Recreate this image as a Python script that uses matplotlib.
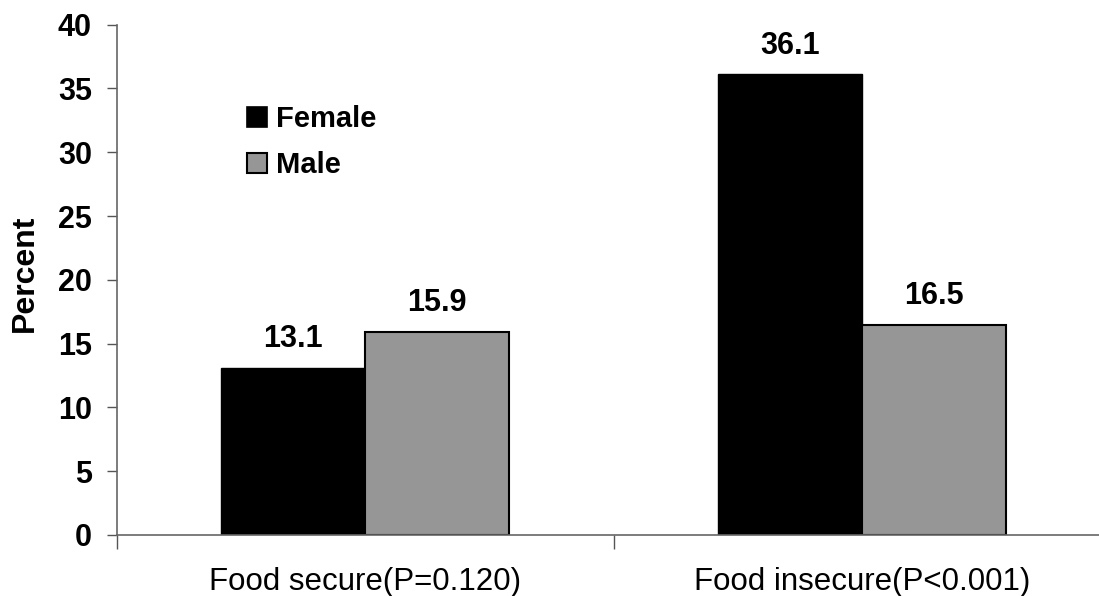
import matplotlib
matplotlib.use("Agg")
import matplotlib.pyplot as plt
import numpy as np
from matplotlib.patches import Patch

categories = ["Food secure(P=0.120)", "Food insecure(P<0.001)"]
series_names = ["Female", "Male"]
female = [13.1, 36.1]
male = [15.9, 16.5]
yticks = [0, 5, 10, 15, 20, 25, 30, 35, 40]

plt.rcParams['font.family'] = ['Liberation Sans', 'DejaVu Sans']

W, H = 1099, 596
fig = plt.figure(figsize=(W / 100, H / 100), dpi=100)
ax = fig.add_axes([117 / W, 61 / H, 993 / W, (535 - 24.7) / H])

x = np.arange(len(categories))
bw = 0.29
b1 = ax.bar(x - bw / 2, female, bw, color='black', edgecolor='black', linewidth=1.0, label=series_names[0])
b2 = ax.bar(x + bw / 2, male, bw, color='#969696', edgecolor='black', linewidth=1.5, label=series_names[1])

for bars, vals in ((b1, female), (b2, male)):
    for r, v in zip(bars, vals):
        ax.annotate(f"{v:.1f}", (r.get_x() + r.get_width() / 2, v), xytext=(0, 10),
                    textcoords='offset points', ha='center', va='bottom',
                    fontsize=22, fontweight='bold')

ax.set_xlim(-0.5, 1.5)
ax.set_ylim(0, 40)
ax.set_yticks(yticks)
ax.set_yticklabels([str(t) for t in yticks], fontsize=22, fontweight='bold')
ax.tick_params(axis='y', length=7, width=1, color='#555555', pad=11)

ax.set_xticks(x)
ax.set_xticklabels(categories, fontsize=22.5)
ax.tick_params(axis='x', which='major', length=0, pad=23)
ax.set_xticks([-0.5, 0.5, 1.5], minor=True)
ax.tick_params(axis='x', which='minor', length=10, width=1, color='#555555')

for s in ('top', 'right'):
    ax.spines[s].set_visible(False)
for s in ('left', 'bottom'):
    ax.spines[s].set_color('#666666')
    ax.spines[s].set_linewidth(1.2)

ax.set_ylabel("Percent", fontsize=23, fontweight='bold')
ax.yaxis.set_label_coords(-0.078, 0.513)

handles = [Patch(facecolor='black', edgecolor='black', linewidth=1.2),
           Patch(facecolor='#969696', edgecolor='black', linewidth=1.5)]
ax.legend(handles, series_names, loc='upper left',
          bbox_to_anchor=(247 / W, 1 - 105 / H), bbox_transform=fig.transFigure,
          frameon=False, borderpad=0, borderaxespad=0,
          handlelength=0.68, handleheight=0.68, handletextpad=0.3,
          labelspacing=0.62, prop={'size': 21, 'weight': 'bold'})

fig.savefig("out.png", dpi=100)
